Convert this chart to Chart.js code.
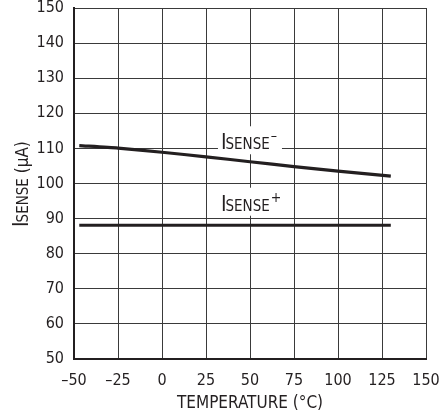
<!DOCTYPE html>
<html>
<head>
<meta charset="utf-8">
<script src="https://cdn.jsdelivr.net/npm/chart.js@4"></script>
<style>
  html, body { margin: 0; padding: 0; background: #fff; }
  #wrap { width: 441px; height: 416px; }
</style>
</head>
<body>
<div id="wrap"><canvas id="c"></canvas></div>
<script>
// Data
const temps = [-47, -25, 0, 25, 50, 75, 100, 130];
const senseMinus = [110.8, 110.1, 108.9, 107.6, 106.2, 104.8, 103.5, 102.1];
const sensePlus = [88.1, 88.1, 88.1, 88.1, 88.1, 88.1, 88.1, 88.1];
const xTicks = [-50, -25, 0, 25, 50, 75, 100, 125, 150];
const yTicks = [50, 60, 70, 80, 90, 100, 110, 120, 130, 140, 150];
// curve labels, anchored at the baseline start (data units)
const curveLabels = [
  { x: 33.5, y: 109.75, sign: '–' },
  { x: 33.5, y: 92.25, sign: '+' },
];

const FONT = '"DejaVu Sans Condensed", "Liberation Sans", Arial, sans-serif';
const INK = '#231f20';

const pts = (ys) => temps.map((t, i) => ({ x: t, y: ys[i] }));

// big "I" followed by smaller "SENSE" on the same baseline; returns end x
function drawISense(ctx, x, y) {
  ctx.font = '21px ' + FONT;
  ctx.fillText('I', x, y);
  x += ctx.measureText('I').width - 1;
  ctx.font = '15px ' + FONT;
  ctx.fillText('SENSE', x, y);
  return x + ctx.measureText('SENSE').width;
}

const labelsPlugin = {
  id: 'labels',
  afterDatasetsDraw(chart) {
    const { ctx, scales: { x, y } } = chart;
    ctx.save();
    ctx.textBaseline = 'alphabetic';
    ctx.textAlign = 'left';
    curveLabels.forEach((l) => {
      const px = x.getPixelForValue(l.x);
      const py = y.getPixelForValue(l.y);
      ctx.fillStyle = '#fff';
      ctx.fillRect(px - 3, py - 23, 64, 28);
      ctx.fillStyle = INK;
      const end = drawISense(ctx, px, py);
      ctx.font = '14px ' + FONT;
      ctx.fillText(l.sign, end + 1, py - 9);
    });
    ctx.restore();
  },
  afterDraw(chart) {
    // rotated y-axis title with subscript-style SENSE
    const { ctx } = chart;
    ctx.save();
    ctx.fillStyle = INK;
    ctx.translate(28, 227);
    ctx.rotate(-Math.PI / 2);
    ctx.textBaseline = 'alphabetic';
    ctx.textAlign = 'left';
    const end = drawISense(ctx, 0, 0);
    ctx.font = '17px ' + FONT;
    ctx.fillText(' (µA)', end, 0);
    ctx.restore();
  },
};

new Chart(document.getElementById('c'), {
  type: 'line',
  data: {
    datasets: [
      { label: 'ISENSE-', data: pts(senseMinus), borderColor: INK, borderWidth: 3.2, pointRadius: 0, tension: 0.2 },
      { label: 'ISENSE+', data: pts(sensePlus), borderColor: INK, borderWidth: 3.2, pointRadius: 0 },
    ],
  },
  options: {
    responsive: true,
    maintainAspectRatio: false,
    animation: false,
    layout: { padding: 0 },
    plugins: { legend: { display: false }, tooltip: { enabled: false } },
    scales: {
      x: {
        type: 'linear',
        min: -50,
        max: 150,
        afterBuildTicks: (s) => { s.ticks = xTicks.map((v) => ({ value: v })); },
        afterFit: (s) => { s.height = 57; s.paddingLeft = 0; s.paddingRight = 15; },
        grid: { color: '#3a3a3a', lineWidth: 1, drawTicks: false },
        border: { color: INK, width: 2 },
        ticks: {
          color: INK,
          padding: 12,
          maxRotation: 0,
          font: { family: FONT, size: 16 },
          callback: (v) => (v < 0 ? '–' + Math.abs(v) : String(v)),
        },
        title: {
          display: true,
          text: 'TEMPERATURE (°C)',
          color: INK,
          font: { family: FONT, size: 17 },
          padding: { top: 0, bottom: 2 },
        },
      },
      y: {
        min: 50,
        max: 150,
        afterBuildTicks: (s) => { s.ticks = yTicks.map((v) => ({ value: v })); },
        afterFit: (s) => { s.width = 74; s.paddingTop = 8; s.paddingBottom = 0; },
        grid: { color: '#3a3a3a', lineWidth: 1, drawTicks: false },
        border: { color: INK, width: 2 },
        ticks: { color: INK, padding: 10, font: { family: FONT, size: 16 } },
      },
    },
  },
  plugins: [labelsPlugin],
});
</script>
</body>
</html>
